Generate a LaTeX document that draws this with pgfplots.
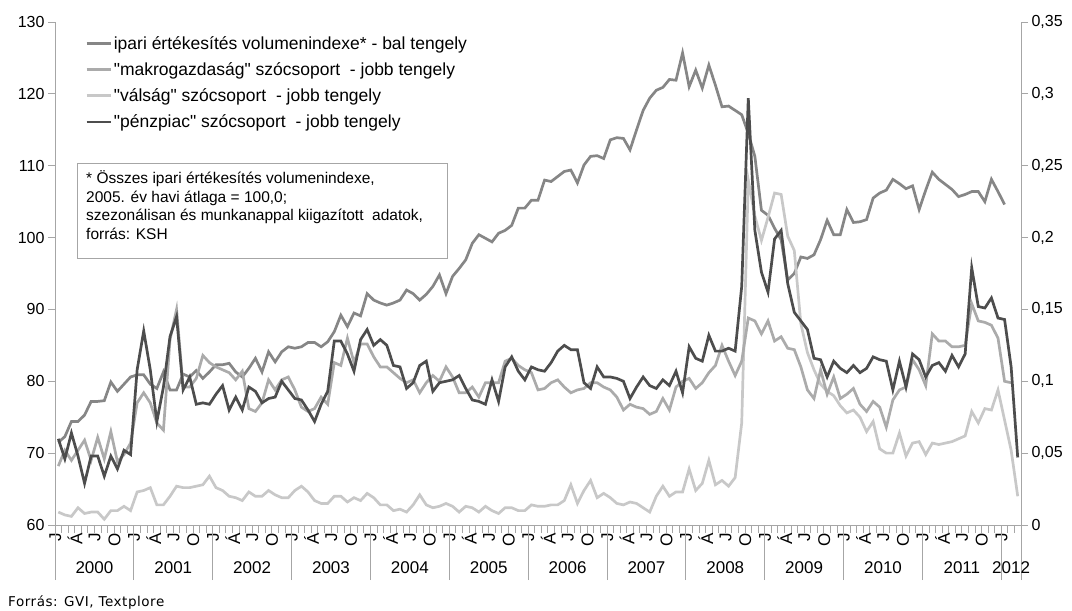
\documentclass[border=0pt]{standalone}
\usepackage{fontspec}
\setmainfont{Liberation Sans}[Ligatures=TeXOff]
\newfontfamily\srcfont{DejaVu Sans}[LetterSpace=4]
\usepackage{pgfplots}
\pgfplotsset{compat=1.18}

\definecolor{cInd}{HTML}{868686}
\definecolor{cMak}{HTML}{ABABAB}
\definecolor{cVal}{HTML}{C8C8C8}
\definecolor{cPen}{HTML}{4D4D4D}
\definecolor{cAx}{HTML}{A6A6A6}

\newcommand{\tickfont}{\fontsize{16}{19}\selectfont}
\newcommand{\yearfont}{\fontsize{17}{20}\selectfont}

\begin{document}
\begin{tikzpicture}
\path[use as bounding box] (0pt,0pt) rectangle (1072pt,611pt);

% left axis: industrial index, month letters
\begin{axis}[
  at={(55pt,86pt)}, anchor=south west, scale only axis,
  width=966pt, height=503pt,
  xmin=-0.5, xmax=146.5, ymin=60, ymax=130,
  axis x line*=bottom, axis y line*=left,
  axis line style={cAx, line width=0.8pt},
  tick align=outside,
  tick style={cAx, line width=0.8pt},
  major tick length=7pt, minor tick length=8pt,
  ytick={60,70,...,130},
  yticklabel style={font=\tickfont, /pgf/number format/assume math mode=true},
  xtick={0,3,...,144},
  xticklabels={J,Á,J,O,J,Á,J,O,J,Á,J,O,J,Á,J,O,J,Á,J,O,J,Á,J,O,J,Á,J,O,J,Á,J,O,J,Á,J,O,J,Á,J,O,J,Á,J,O,J,Á,J,O,J},
  xticklabel style={rotate=90, anchor=east, inner sep=1pt, yshift=3pt, font=\fontsize{17}{20}\selectfont},
  every major x tick/.append style={draw=none},
  minor xtick={-0.5,0.5,...,146.5},
  clip=false,
  legend style={draw=none, fill=none, at={(0.031,0.976)}, anchor=north west,
    font=\fontsize{17.5}{21}\selectfont, row sep=7.8pt, inner sep=0pt},
  legend cell align=left,
  legend image code/.code={\draw[#1] (0pt,0pt) -- (24pt,0pt);},
]
\addplot[cInd, line width=2.7pt] coordinates {
(0,71.5)(1,72.3)(2,74.4)(3,74.4)(4,75.3)(5,77.2)(6,77.2)(7,77.3)(8,79.9)(9,78.6)(10,79.6)(11,80.6)
(12,80.9)(13,80.9)(14,79.6)(15,79.0)(16,81.3)(17,78.8)(18,78.8)(19,81.0)(20,80.6)(21,81.5)(22,80.4)(23,81.3)
(24,82.3)(25,82.3)(26,82.5)(27,81.3)(28,80.6)(29,81.8)(30,83.2)(31,81.3)(32,84.1)(33,82.7)(34,84.1)(35,84.8)
(36,84.6)(37,84.8)(38,85.4)(39,85.4)(40,84.8)(41,85.5)(42,86.9)(43,89.2)(44,87.6)(45,89.5)(46,89.1)(47,92.2)
(48,91.3)(49,90.9)(50,90.6)(51,90.9)(52,91.3)(53,92.7)(54,92.2)(55,91.3)(56,92.1)(57,93.2)(58,94.8)(59,92.2)
(60,94.6)(61,95.7)(62,96.9)(63,99.2)(64,100.4)(65,99.9)(66,99.4)(67,100.6)(68,101.0)(69,101.7)(70,104.1)(71,104.1)
(72,105.2)(73,105.2)(74,108.0)(75,107.8)(76,108.5)(77,109.2)(78,109.4)(79,107.6)(80,110.1)(81,111.3)(82,111.4)(83,111.0)
(84,113.6)(85,113.9)(86,113.8)(87,112.2)(88,115.0)(89,117.7)(90,119.4)(91,120.5)(92,120.9)(93,122.0)(94,121.9)(95,125.7)
(96,121.0)(97,123.3)(98,120.8)(99,124.0)(100,121.2)(101,118.2)(102,118.3)(103,117.7)(104,117.1)(105,114.5)(106,111.3)(107,103.8)
(108,103.1)(109,101.3)(110,99.7)(111,94.1)(112,95.0)(113,97.3)(114,97.1)(115,97.6)(116,99.7)(117,102.4)(118,100.4)(119,100.4)
(120,103.9)(121,102.1)(122,102.2)(123,102.5)(124,105.5)(125,106.2)(126,106.6)(127,108.1)(128,107.5)(129,106.8)(130,107.2)(131,103.9)
(132,106.6)(133,109.1)(134,108.1)(135,107.4)(136,106.7)(137,105.7)(138,106.0)(139,106.4)(140,106.4)(141,105.0)(142,108.1)(143,106.4)
(144,104.6)
};
\addlegendentry{ipari értékesítés volumenindexe* - bal tengely}
\addlegendimage{cMak, line width=2.7pt}
\addlegendentry{"makrogazdaság" szócsoport \ - jobb tengely}
\addlegendimage{cVal, line width=2.7pt}
\addlegendentry{"válság" szócsoport \ - jobb tengely}
\addlegendimage{cPen, line width=2.7pt}
\addlegendentry{"pénzpiac" szócsoport \ - jobb tengely}

\draw[cAx, line width=0.8pt] (rel axis cs:0.0228,0.7197) rectangle (rel axis cs:0.4058,0.5308);
\node[anchor=north west, align=left, inner sep=0pt, font=\fontsize{15.5}{18.5}\selectfont]
  at (rel axis cs:0.0321,0.705)
  {* Összes ipari értékesítés volumenindexe,\\
   2005. év havi átlaga = 100,0;\\
   szezonálisan és munkanappal kiigazított \ adatok,\\
   forrás: KSH};
\end{axis}

% right axis: word-group series
\begin{axis}[
  at={(55pt,86pt)}, anchor=south west, scale only axis,
  width=966pt, height=503pt,
  xmin=-0.5, xmax=146.5, ymin=0, ymax=0.35,
  axis x line=none, axis y line*=right,
  axis line style={cAx, line width=0.8pt},
  tick align=outside,
  tick style={cAx, line width=0.8pt},
  major tick length=7pt,
  ytick={0,0.05,0.1,0.15,0.2,0.25,0.3,0.35},
  scaled y ticks=false,
  yticklabel style={font=\tickfont, /pgf/number format/.cd, fixed, precision=2, use comma, assume math mode=true},
  clip=false,
]
% valsag
\addplot[cVal, line width=2.7pt] coordinates {
(0,.009)(1,.007)(2,.006)(3,.012)(4,.008)(5,.009)(6,.009)(7,.004)(8,.010)(9,.010)(10,.013)(11,.010)
(12,.023)(13,.024)(14,.026)(15,.014)(16,.014)(17,.020)(18,.027)(19,.026)(20,.026)(21,.027)(22,.028)(23,.034)
(24,.026)(25,.024)(26,.020)(27,.019)(28,.017)(29,.023)(30,.020)(31,.020)(32,.024)(33,.021)(34,.019)(35,.019)
(36,.024)(37,.027)(38,.023)(39,.017)(40,.015)(41,.015)(42,.020)(43,.020)(44,.016)(45,.019)(46,.017)(47,.022)
(48,.019)(49,.014)(50,.014)(51,.010)(52,.011)(53,.009)(54,.014)(55,.021)(56,.014)(57,.012)(58,.013)(59,.015)
(60,.013)(61,.009)(62,.013)(63,.012)(64,.009)(65,.013)(66,.010)(67,.008)(68,.012)(69,.012)(70,.010)(71,.010)
(72,.014)(73,.013)(74,.013)(75,.014)(76,.014)(77,.017)(78,.028)(79,.015)(80,.024)(81,.031)(82,.019)(83,.022)
(84,.019)(85,.015)(86,.014)(87,.016)(88,.015)(89,.012)(90,.009)(91,.020)(92,.027)(93,.020)(94,.023)(95,.023)
(96,.039)(97,.024)(98,.029)(99,.045)(100,.028)(101,.031)(102,.027)(103,.033)(104,.071)(105,.240)(106,.215)(107,.198)
(108,.214)(109,.231)(110,.230)(111,.201)(112,.191)(113,.140)(114,.120)(115,.108)(116,.098)(117,.093)(118,.090)(119,.083)
(120,.078)(121,.080)(122,.075)(123,.065)(124,.072)(125,.053)(126,.050)(127,.050)(128,.064)(129,.048)(130,.057)(131,.058)
(132,.049)(133,.057)(134,.056)(135,.057)(136,.058)(137,.060)(138,.062)(139,.079)(140,.071)(141,.081)(142,.080)(143,.094)
(144,.073)(145,.052)(146,.020)
};
% makrogazdasag
\addplot[cMak, line width=2.7pt] coordinates {
(0,.041)(1,.052)(2,.045)(3,.052)(4,.059)(5,.045)(6,.061)(7,.046)(8,.065)(9,.044)(10,.049)(11,.057)
(12,.085)(13,.092)(14,.085)(15,.071)(16,.066)(17,.129)(18,.150)(19,.096)(20,.096)(21,.102)(22,.118)(23,.113)
(24,.110)(25,.108)(26,.106)(27,.101)(28,.107)(29,.081)(30,.079)(31,.085)(32,.101)(33,.094)(34,.101)(35,.103)
(36,.094)(37,.082)(38,.079)(39,.081)(40,.089)(41,.084)(42,.113)(43,.111)(44,.130)(45,.113)(46,.126)(47,.126)
(48,.117)(49,.110)(50,.110)(51,.106)(52,.102)(53,.099)(54,.101)(55,.092)(56,.099)(57,.104)(58,.100)(59,.110)
(60,.103)(61,.092)(62,.092)(63,.096)(64,.089)(65,.099)(66,.099)(67,.099)(68,.114)(69,.116)(70,.111)(71,.108)
(72,.106)(73,.094)(74,.095)(75,.099)(76,.101)(77,.096)(78,.092)(79,.094)(80,.095)(81,.099)(82,.099)(83,.096)
(84,.094)(85,.089)(86,.080)(87,.084)(88,.082)(89,.081)(90,.077)(91,.079)(92,.088)(93,.080)(94,.096)(95,.100)
(96,.102)(97,.095)(98,.099)(99,.106)(100,.111)(101,.125)(102,.114)(103,.104)(104,.114)(105,.144)(106,.142)(107,.133)
(108,.142)(109,.128)(110,.131)(111,.123)(112,.122)(113,.110)(114,.094)(115,.088)(116,.108)(117,.091)(118,.103)(119,.088)
(120,.091)(121,.095)(122,.084)(123,.079)(124,.086)(125,.082)(126,.068)(127,.087)(128,.094)(129,.096)(130,.115)(131,.108)
(132,.097)(133,.133)(134,.128)(135,.128)(136,.124)(137,.124)(138,.125)(139,.154)(140,.142)(141,.141)(142,.139)(143,.130)
(144,.100)(145,.099)
};
% penzpiac
\addplot[cPen, line width=2.7pt] coordinates {
(0,.060)(1,.046)(2,.064)(3,.048)(4,.029)(5,.048)(6,.048)(7,.034)(8,.048)(9,.039)(10,.052)(11,.049)
(12,.108)(13,.135)(14,.108)(15,.072)(16,.096)(17,.131)(18,.145)(19,.094)(20,.103)(21,.084)(22,.085)(23,.084)
(24,.091)(25,.097)(26,.080)(27,.089)(28,.080)(29,.096)(30,.093)(31,.085)(32,.088)(33,.089)(34,.100)(35,.094)
(36,.088)(37,.087)(38,.080)(39,.072)(40,.084)(41,.093)(42,.128)(43,.128)(44,.119)(45,.107)(46,.129)(47,.136)
(48,.125)(49,.129)(50,.125)(51,.111)(52,.110)(53,.095)(54,.099)(55,.111)(56,.114)(57,.093)(58,.099)(59,.100)
(60,.101)(61,.104)(62,.095)(63,.087)(64,.086)(65,.084)(66,.101)(67,.086)(68,.110)(69,.117)(70,.107)(71,.101)
(72,.110)(73,.108)(74,.107)(75,.113)(76,.121)(77,.125)(78,.122)(79,.122)(80,.099)(81,.095)(82,.110)(83,.103)
(84,.103)(85,.102)(86,.100)(87,.088)(88,.096)(89,.103)(90,.097)(91,.095)(92,.101)(93,.097)(94,.107)(95,.092)
(96,.124)(97,.116)(98,.114)(99,.132)(100,.121)(101,.121)(102,.123)(103,.121)(104,.166)(105,.297)(106,.205)(107,.176)
(108,.162)(109,.199)(110,.205)(111,.168)(112,.148)(113,.142)(114,.136)(115,.116)(116,.115)(117,.103)(118,.114)(119,.109)
(120,.106)(121,.111)(122,.106)(123,.109)(124,.117)(125,.115)(126,.114)(127,.094)(128,.114)(129,.096)(130,.119)(131,.115)
(132,.103)(133,.111)(134,.113)(135,.107)(136,.118)(137,.110)(138,.119)(139,.179)(140,.152)(141,.151)(142,.158)(143,.144)
(144,.143)(145,.110)(146,.047)
};
\end{axis}

% year labels and year separators
\begin{axis}[
  at={(55pt,86pt)}, anchor=south west, scale only axis,
  width=966pt, height=503pt,
  xmin=-0.5, xmax=146.5, ymin=0, ymax=1,
  hide y axis, axis x line*=bottom,
  axis line style={cAx, line width=0.8pt},
  tick align=outside,
  tick style={cAx, line width=0.8pt},
  major tick length=0pt, minor tick length=55pt,
  xtick={5.5,17.5,29.5,41.5,53.5,65.5,77.5,89.5,101.5,113.5,125.5,137.5,145},
  xticklabels={2000,2001,2002,2003,2004,2005,2006,2007,2008,2009,2010,2011,2012},
  xticklabel style={font=\yearfont, anchor=center, yshift=-43pt},
  minor xtick={-0.5,11.5,23.5,35.5,47.5,59.5,71.5,83.5,95.5,107.5,119.5,131.5,143.5,146.5},
]
\addplot[draw=none] coordinates {(0,0)};
\end{axis}

\node[anchor=base west, inner sep=0pt, font=\srcfont\fontsize{13.5}{16}\selectfont] at (8pt,5pt) {Forrás: GVI, Textplore};
\end{tikzpicture}
\end{document}
